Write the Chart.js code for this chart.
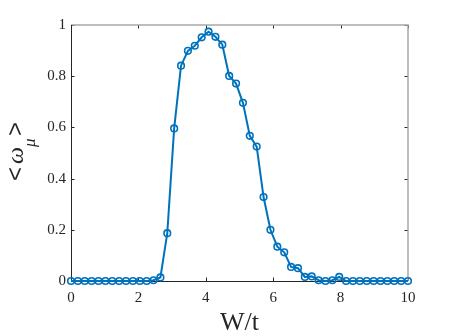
<!DOCTYPE html>
<html>
<head>
<meta charset="utf-8">
<script src="https://cdn.jsdelivr.net/npm/chart.js@4"></script>
<style>
  html, body { margin: 0; padding: 0; background: #fff; }
  canvas { display: block; }
</style>
</head>
<body>
<canvas id="chart" width="449" height="336"></canvas>
<script>
// W/t values (50 points from 0 to 10)
const wValues = [
  0, 0.204, 0.408, 0.612, 0.816, 1.020, 1.224, 1.429, 1.633, 1.837,
  2.041, 2.245, 2.449, 2.653, 2.857, 3.061, 3.265, 3.469, 3.673, 3.878,
  4.082, 4.286, 4.490, 4.694, 4.898, 5.102, 5.306, 5.510, 5.714, 5.918,
  6.122, 6.327, 6.531, 6.735, 6.939, 7.143, 7.347, 7.551, 7.755, 7.959,
  8.163, 8.367, 8.571, 8.776, 8.980, 9.184, 9.388, 9.592, 9.796, 10
];
// <omega>_mu
const omegaMu = [
  0, 0, 0, 0, 0, 0, 0, 0, 0, 0,
  0, 0, 0.003, 0.014, 0.187, 0.596, 0.841, 0.899, 0.919, 0.952,
  0.974, 0.954, 0.923, 0.801, 0.771, 0.696, 0.567, 0.525, 0.328, 0.200,
  0.134, 0.112, 0.055, 0.050, 0.016, 0.018, 0.003, 0, 0.003, 0.016,
  0, 0, 0, 0, 0, 0, 0, 0, 0, 0
];
const xTicks = [0, 2, 4, 6, 8, 10];
const yTicks = [0, 0.2, 0.4, 0.6, 0.8, 1];

const axisColor = '#262626';
const tickFont = { family: "'Liberation Serif', 'Times New Roman', serif", size: 15 };

// box + inward ticks, drawn under the data like matlab does
const framePlugin = {
  id: 'frame',
  beforeDatasetsDraw(chart) {
    const { ctx, chartArea: a, scales: { x, y } } = chart;
    const tl = 3.5;
    ctx.save();
    ctx.lineWidth = 1;
    ctx.strokeStyle = axisColor;
    ctx.beginPath();
    xTicks.forEach(v => {
      const px = Math.round(x.getPixelForValue(v)) + 0.5;
      ctx.moveTo(px, a.bottom); ctx.lineTo(px, a.bottom - tl);
      ctx.moveTo(px, a.top); ctx.lineTo(px, a.top + tl);
    });
    yTicks.forEach(v => {
      const py = Math.round(y.getPixelForValue(v)) + 0.5;
      ctx.moveTo(a.left, py); ctx.lineTo(a.left + tl, py);
      ctx.moveTo(a.right, py); ctx.lineTo(a.right - tl, py);
    });
    ctx.stroke();

    // top and right edges come out lighter in the original
    ctx.strokeStyle = '#a8a8a8';
    ctx.lineWidth = 1.5;
    ctx.beginPath();
    ctx.moveTo(a.left, a.top); ctx.lineTo(a.right, a.top); ctx.lineTo(a.right, a.bottom);
    ctx.stroke();

    ctx.strokeStyle = axisColor;
    ctx.lineWidth = 1;
    ctx.beginPath();
    ctx.moveTo(a.left + 0.5, a.top); ctx.lineTo(a.left + 0.5, a.bottom + 0.5); ctx.lineTo(a.right, a.bottom + 0.5);
    ctx.stroke();
    ctx.restore();
  },
  afterDraw(chart) {
    const { ctx, chartArea: a } = chart;
    ctx.save();
    ctx.fillStyle = axisColor;

    // x title
    ctx.font = "26px 'Liberation Serif', serif";
    ctx.textAlign = 'center';
    ctx.textBaseline = 'alphabetic';
    ctx.fillText('W/t', (a.left + a.right) / 2, 330);

    // y title  <ω_μ>  rotated
    ctx.translate(23, 181);
    ctx.rotate(-Math.PI / 2);
    ctx.textAlign = 'left';
    ctx.font = "24px 'Liberation Sans', sans-serif";
    ctx.fillText('<', 0, 0);
    ctx.font = "italic 24px 'Liberation Serif', serif";
    ctx.fillText('ω', 17, 0);
    ctx.font = "italic 17px 'Liberation Serif', serif";
    ctx.fillText('μ', 34, 12);
    ctx.font = "24px 'Liberation Sans', sans-serif";
    ctx.fillText('>', 45, 0);
    ctx.restore();
  }
};

new Chart(document.getElementById('chart'), {
  type: 'line',
  data: {
    datasets: [{
      data: wValues.map((w, i) => ({ x: w, y: omegaMu[i] })),
      borderColor: '#0072BD',
      borderWidth: 2,
      pointRadius: 3.3,
      pointBorderWidth: 1.6,
      pointBorderColor: '#0072BD',
      pointBackgroundColor: 'rgba(0,0,0,0)',
      tension: 0,
      clip: false
    }]
  },
  options: {
    responsive: false,
    animation: false,
    events: [],
    layout: { padding: { left: 0, top: 25, right: 41, bottom: 0 } },
    plugins: { legend: { display: false }, tooltip: { enabled: false } },
    scales: {
      x: {
        type: 'linear',
        min: 0, max: 10,
        grid: { display: false, drawTicks: false },
        border: { display: false },
        afterBuildTicks: s => { s.ticks = xTicks.map(v => ({ value: v })); },
        afterFit: s => { s.height = 55; },
        ticks: { color: axisColor, font: tickFont, padding: 8, maxRotation: 0, callback: v => String(v) }
      },
      y: {
        type: 'linear',
        min: 0, max: 1,
        grid: { display: false, drawTicks: false },
        border: { display: false },
        afterBuildTicks: s => { s.ticks = yTicks.map(v => ({ value: v })); },
        afterFit: s => { s.width = 71; },
        ticks: { color: axisColor, font: tickFont, padding: 5, callback: v => String(v) }
      }
    }
  },
  plugins: [framePlugin]
});
</script>
</body>
</html>
